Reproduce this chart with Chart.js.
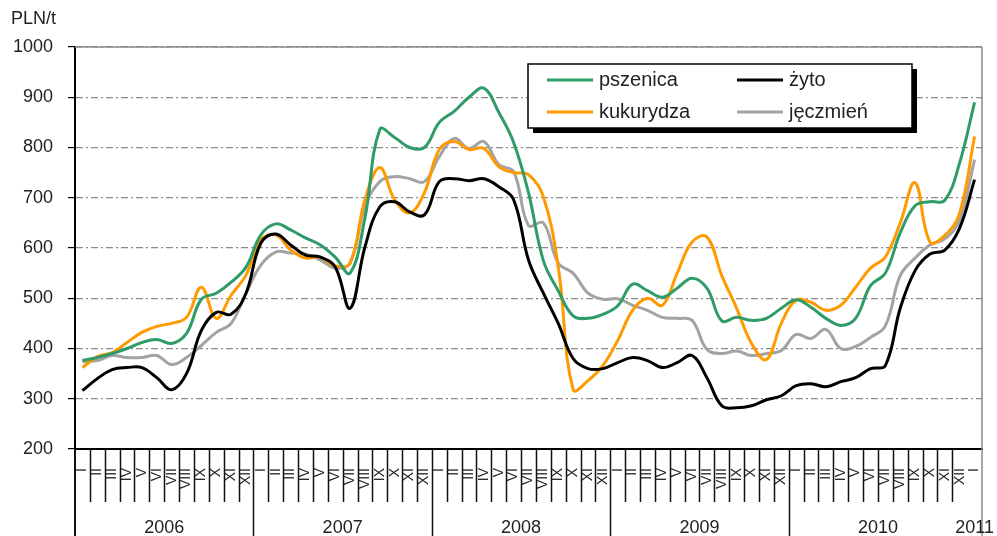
<!DOCTYPE html>
<html>
<head>
<meta charset="utf-8">
<script src="https://cdn.jsdelivr.net/npm/chart.js@4/dist/chart.umd.min.js"></script>
<style>
  html, body { margin: 0; padding: 0; background: #fff; }
  #wrap { width: 997px; height: 536px; }
</style>
</head>
<body>
<div id="wrap"><canvas id="mainChart" width="997" height="536"></canvas></div>
<script>
// --- DATA ---
const months = ['I', 'II', 'III', 'IV', 'V', 'VI', 'VII', 'VIII', 'IX', 'X', 'XI', 'XII'];
const years = ['2006', '2007', '2008', '2009', '2010', '2011'];
const seriesNames = ['pszenica', 'żyto', 'kukurydza', 'jęczmień'];

const pszenica = [376, 382, 390, 400, 412, 418, 410, 430, 498, 510, 532, 562,
                  626, 648, 636, 620, 606, 582, 550, 660, 836, 820, 800, 800,
                  850, 872, 900, 918, 870, 810, 710, 575, 515, 465, 460, 468,
                  485, 528, 515, 502, 520, 540, 520, 455, 462, 456, 460, 480,
                  497, 482, 460, 446, 460, 525, 550, 630, 684, 692, 695, 770,
                  890];
const zyto = [316, 340, 358, 362, 362, 342, 318, 350, 436, 472, 468, 510,
              610, 628, 606, 586, 582, 562, 480, 602, 682, 692, 672, 666,
              732, 738, 734, 738, 722, 696, 576, 510, 450, 380, 360, 360,
              372, 382, 376, 362, 372, 386, 342, 286, 282, 286, 298, 306,
              326, 330, 324, 334, 342, 360, 366, 480, 555, 588, 596, 640,
              736];
const kukurydza = [362, 384, 392, 412, 432, 444, 450, 462, 522, 460, 506, 546,
                   616, 626, 596, 580, 582, 564, 570, 696, 760, 696, 670, 710,
                   796, 812, 796, 798, 762, 750, 746, 702, 562, 318, 336, 366,
                   416, 476, 500, 486, 550, 612, 622, 545, 480, 410, 378, 450,
                   496, 492, 476, 486, 522, 560, 582, 650, 730, 612, 625, 670,
                   822];
const jeczmien = [374, 376, 386, 382, 382, 386, 368, 382, 406, 432, 450, 510,
                  566, 592, 590, 588, 576, 560, 570, 682, 732, 742, 738, 732,
                  782, 818, 798, 812, 766, 752, 645, 650, 570, 550, 510, 498,
                  499, 486, 476, 462, 460, 456, 398, 390, 395, 386, 390, 396,
                  428, 420, 438, 400, 404, 422, 445, 545, 580, 606, 618, 656,
                  776];

// 2006-I .. 2011-I
const labels = [];
years.forEach((y, j) => {
    months.forEach(m => { if (j < 5 || m === 'I') labels.push(m); });
});

const colors = ['#2e9b68', '#000000', '#ff9a00', '#a3a3a3'];
const FONT = 'Arial, "Liberation Sans", sans-serif';
Chart.defaults.font.family = FONT;

// --- DECORATION: frame, month/year separators, legend box ---
const decor = {
    id: 'decor',
    afterDraw(chart) {
        const { ctx, chartArea: a, scales: { x } } = chart;
        const step = x.getPixelForValue(1) - x.getPixelForValue(0);
        ctx.save();

        // frame top / right
        ctx.strokeStyle = '#8c8c8c';
        ctx.lineWidth = 1.5;
        ctx.beginPath();
        ctx.moveTo(a.left, a.top); ctx.lineTo(a.right, a.top);
        ctx.moveTo(a.right, a.top); ctx.lineTo(a.right, chart.height);
        ctx.stroke();

        // month separators
        ctx.strokeStyle = '#111';
        ctx.lineWidth = 1.5;
        ctx.beginPath();
        for (let k = 1; k < labels.length; k++) {
            if (k === 60) continue;
            const bx = Math.round(x.getPixelForValue(k) - step / 2) + 0.5;
            ctx.moveTo(bx, a.bottom);
            ctx.lineTo(bx, k % 12 === 0 ? chart.height : a.bottom + 53);
        }
        ctx.stroke();
        ctx.lineWidth = 2;
        ctx.beginPath();
        ctx.moveTo(a.left, a.bottom); ctx.lineTo(a.left, chart.height);
        ctx.stroke();

        // year labels
        ctx.fillStyle = '#222';
        ctx.font = '18px ' + FONT;
        ctx.textAlign = 'center';
        ctx.textBaseline = 'middle';
        years.forEach((y, j) => {
            const cx = j < 5
                ? (x.getPixelForValue(j * 12) + x.getPixelForValue(j * 12 + 11)) / 2
                : x.getPixelForValue(60);
            ctx.fillText(y, cx, 528);
        });

        // unit
        ctx.textAlign = 'left';
        ctx.fillText('PLN/t', 11, 19);

        // legend box
        const bx = 528, by = 64, bw = 384, bh = 64;
        ctx.fillStyle = '#000';
        ctx.fillRect(bx + 5, by + 5, bw, bh);
        ctx.fillStyle = '#fff';
        ctx.fillRect(bx, by, bw, bh);
        ctx.strokeStyle = '#000';
        ctx.lineWidth = 1.5;
        ctx.strokeRect(bx, by, bw, bh);

        ctx.font = '20px ' + FONT;
        ctx.textBaseline = 'middle';
        chart.data.datasets.forEach((ds, i) => {
            const col = i % 2, row = Math.floor(i / 2);
            const lx = col === 0 ? 547 : 737;
            const ly = row === 0 ? 80 : 112;
            ctx.strokeStyle = ds.borderColor;
            ctx.lineWidth = 3;
            ctx.beginPath();
            ctx.moveTo(lx, ly); ctx.lineTo(lx + 46, ly);
            ctx.stroke();
            ctx.fillStyle = '#222';
            ctx.fillText(ds.label, lx + 52, ly);
        });
        ctx.restore();
    }
};

// --- CHART ---
const ctx = document.getElementById('mainChart').getContext('2d');
const mainChart = new Chart(ctx, {
    type: 'line',
    data: {
        labels: labels,
        datasets: [pszenica, zyto, kukurydza, jeczmien].map((d, i) => ({
            label: seriesNames[i],
            data: d,
            borderColor: colors[i],
            backgroundColor: colors[i],
            borderWidth: 3,
            pointRadius: 0,
            tension: 0.4,
            fill: false
        }))
    },
    options: {
        responsive: false,
        animation: false,
        layout: { padding: { top: 47, right: 1, left: 0, bottom: 0 } },
        plugins: { legend: { display: false }, tooltip: { enabled: false } },
        scales: {
            x: {
                offset: true,
                grid: { display: false, drawTicks: false },
                border: { color: '#000', width: 2 },
                ticks: {
                    autoSkip: false, maxRotation: 90, minRotation: 90,
                    padding: 19, color: '#222', font: { size: 14 }
                },
                afterFit: s => { s.height = 87; s.paddingRight = 15; }
            },
            y: {
                min: 200, max: 1000,
                ticks: { stepSize: 100, padding: 15, color: '#222', font: { size: 18 },
                         callback: v => String(v) },
                grid: { color: '#8c8c8c', tickColor: '#000', tickLength: 7, lineWidth: 1.2 },
                border: { color: '#000', width: 2, dash: [7, 3, 2, 3] },
                afterFit: s => { s.width = 75; }
            }
        }
    },
    plugins: [decor]
});
</script>
</body>
</html>
